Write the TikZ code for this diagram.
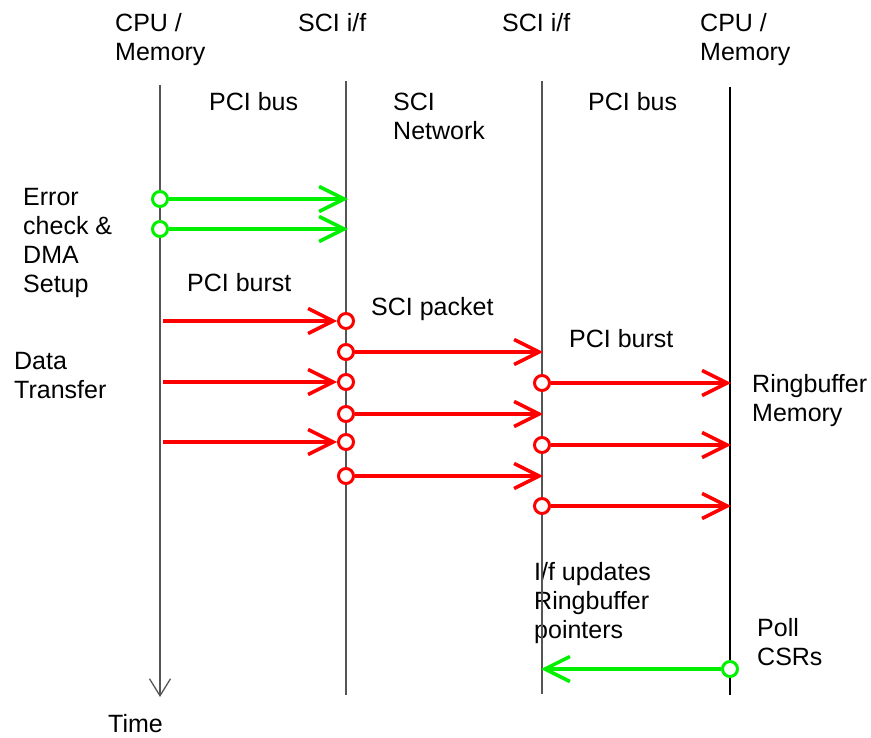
\documentclass[tikz,border=0pt]{standalone}
\usepackage{fontspec}
\setmainfont{Liberation Sans}
\usetikzlibrary{arrows.meta}
\definecolor{sigred}{RGB}{255,0,0}
\definecolor{siggreen}{RGB}{0,240,0}
\definecolor{lifegray}{RGB}{85,85,85}
% left-aligned block of lines whose baseline is the first line's baseline
\newcommand\stacked[1]{\vtop{\baselineskip=29pt\halign{##\hfil\cr#1\crcr}}}
\begin{document}
\begin{tikzpicture}[x=1pt,y=-1pt,
  txt/.style={anchor=base west, inner sep=0pt, font=\fontsize{25}{29}\selectfont},
  lifeline/.style={draw=lifegray, line width=1.8pt},
  msg/.style={line width=3.5pt, -{Straight Barb[length=25pt,width=25pt]}},
  redmsg/.style={msg, draw=sigred},
  greenmsg/.style={msg, draw=siggreen},
  dot/.style={circle, minimum size=15pt, inner sep=0pt, line width=3pt, fill=white, draw=#1},
]
\useasboundingbox (0,0) rectangle (871,738);

% column headings
\node[txt] (h1) at (115,32) {\stacked{CPU /\cr Memory}};
\node[txt] (h2) at (298,32) {SCI i/f};
\node[txt] (h3) at (502,32) {SCI i/f};
\node[txt] (h4) at (700,32) {\stacked{CPU /\cr Memory}};

% segment names between the lifelines
\node[txt] (b1) at (209,111) {PCI bus};
\node[txt] (b2) at (393,111) {\stacked{SCI\cr Network}};
\node[txt] (b3) at (588,111) {PCI bus};

% phase and transfer labels
\node[txt] (ph1) at (23,206) {\stacked{Error\cr check \&\cr DMA\cr Setup}};
\node[txt] (ph2) at (14,370) {\stacked{Data\cr Transfer}};
\node[txt] (t1) at (187,292) {PCI burst};
\node[txt] (t2) at (371,316) {SCI packet};
\node[txt] (t3) at (569,348) {PCI burst};
\node[txt] (rb) at (752,392) {\stacked{Ringbuffer\cr Memory}};
\node[txt] (up) at (534,580) {\stacked{I/f updates\cr Ringbuffer\cr pointers}};
\node[txt] (pl) at (757,636) {\stacked{Poll\cr CSRs}};
\node[txt] (tm) at (108,732) {Time};

% lifelines (the first one doubles as the time axis)
\coordinate (l1a) at (160,85);  \coordinate (l1b) at (160,697);
\coordinate (l2a) at (346,81);  \coordinate (l2b) at (346,695);
\coordinate (l3a) at (542,81);  \coordinate (l3b) at (542,694);
\coordinate (l4a) at (730,87);  \coordinate (l4b) at (730,695);
\draw[lifeline, -{Straight Barb[length=17pt,width=21pt,line width=1.3pt]}] (l1a) -- (l1b);
\draw[lifeline] (l2a) -- (l2b);
\draw[lifeline] (l3a) -- (l3b);
\draw[black, line width=1.4pt] (l4a) -- (l4b);

% circles marking where a transfer starts or is picked up
\node[dot=siggreen] (g1) at (160,199) {};
\node[dot=siggreen] (g2) at (160,229) {};
\node[dot=sigred] (r1) at (346,321) {};
\node[dot=sigred] (s1) at (346,352) {};
\node[dot=sigred] (r2) at (346,382) {};
\node[dot=sigred] (s2) at (346,414) {};
\node[dot=sigred] (r3) at (346,442) {};
\node[dot=sigred] (s3) at (346,476) {};
\node[dot=sigred] (q1) at (542,383) {};
\node[dot=sigred] (q2) at (542,445) {};
\node[dot=sigred] (q3) at (542,506) {};
\node[dot=siggreen] (pc) at (730,669) {};

% free ends of the transfers
\coordinate (ge1) at (348,199);
\coordinate (ge2) at (348,229);
\coordinate (ps1) at (163,321);
\coordinate (ps2) at (163,382);
\coordinate (ps3) at (163,442);
\coordinate (se1) at (543,352);
\coordinate (se2) at (543,414);
\coordinate (se3) at (543,476);
\coordinate (qe1) at (731,383);
\coordinate (qe2) at (731,445);
\coordinate (qe3) at (731,506);
\coordinate (pe) at (541,669);

% DMA setup writes
\draw[greenmsg] (g1) -- (ge1);
\draw[greenmsg] (g2) -- (ge2);
% PCI bursts into the local interface
\draw[redmsg] (ps1) -- (r1);
\draw[redmsg] (ps2) -- (r2);
\draw[redmsg] (ps3) -- (r3);
% SCI packets across the network
\draw[redmsg] (s1) -- (se1);
\draw[redmsg] (s2) -- (se2);
\draw[redmsg] (s3) -- (se3);
% PCI bursts into the remote ringbuffer
\draw[redmsg] (q1) -- (qe1);
\draw[redmsg] (q2) -- (qe2);
\draw[redmsg] (q3) -- (qe3);
% status poll
\draw[greenmsg] (pc) -- (pe);
\end{tikzpicture}
\end{document}
